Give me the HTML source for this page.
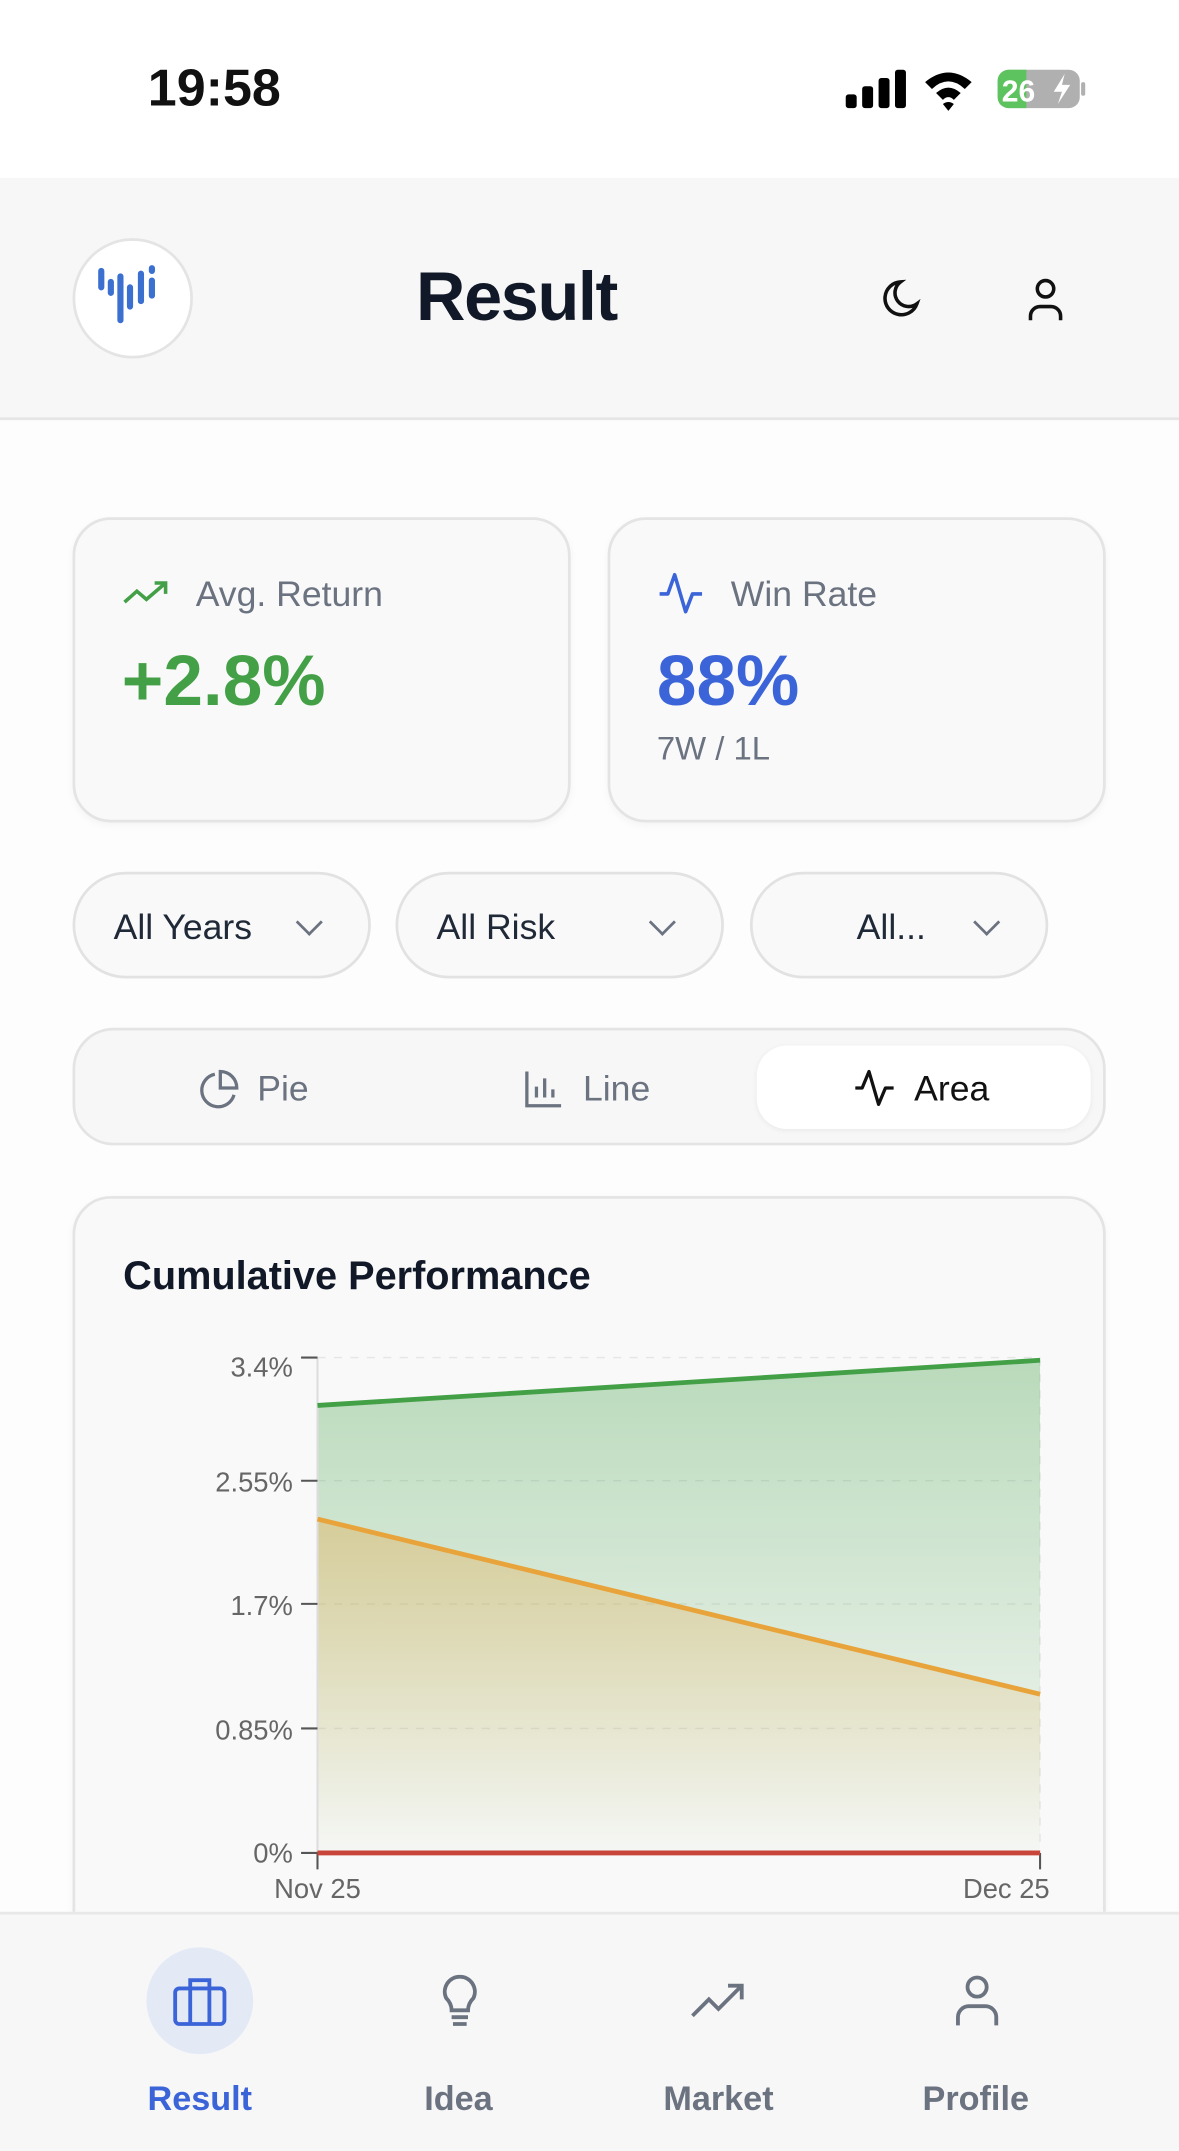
<!DOCTYPE html>
<html><head><meta charset="utf-8"><style>
html,body{margin:0;padding:0;width:1179px;height:2147px;overflow:hidden;background:#fff}
#w{position:absolute;left:0;top:0;width:862px;height:1570px;transform:scale(1.3685);transform-origin:0 0;font-family:"Liberation Sans",sans-serif;background:#fdfdfd}
.a{position:absolute}
.card{position:absolute;background:#f9f9f9;border:2px solid #e4e4e4;border-radius:28px;box-sizing:border-box;box-shadow:0 2px 6px rgba(0,0,0,0.04)}
.pill{position:absolute;top:637px;height:78px;border:2px solid #e2e2e2;border-radius:39px;box-sizing:border-box;background:#f9f9f9;font-size:26px;color:#1f2937}
.pill span{position:absolute;top:23px}
.chev{position:absolute;top:28px;width:12px;height:12px;border-right:2.5px solid #6b7280;border-bottom:2.5px solid #6b7280;transform:rotate(45deg)}
.seg{position:absolute;top:780px;font-size:26px;color:#6b7280}
.nl{position:absolute;top:1520px;font-size:25px;font-weight:bold;color:#6b7280;transform:translateX(-50%)}
</style></head><body><div id="w">
<div class="a" style="left:0;top:0;width:862px;height:130px;background:#fff"></div>
<div class="a" style="left:108px;top:44px;font-size:38px;font-weight:bold;color:#111">19:58</div>
<svg class="a" style="left:610px;top:46px" width="190" height="40">
<rect x="8" y="23" width="8" height="10" rx="2"/><rect x="20" y="17" width="8" height="16" rx="2"/><rect x="32" y="11" width="8" height="22" rx="2"/><rect x="44" y="5" width="8" height="28" rx="2"/>
<path d="M66 14 Q83 0 100 14 L95 19 Q83 8 71 19Z M74 22 Q83 14 92 22 L87 27 Q83 23 79 27Z M83 35 L79 30 Q83 27 87 30Z"/>
<rect x="119" y="5" width="60" height="28" rx="8" fill="#b0b0b0"/><path d="M127 5 h13 v28 h-13 a8 8 0 0 1 -8 -8 v-12 a8 8 0 0 1 8 -8z" fill="#5cc35f"/>
<rect x="180" y="14" width="3" height="10" rx="1.5" fill="#b0b0b0"/>
<text x="122" y="28" font-size="22" font-weight="bold" fill="#fff" font-family="Liberation Sans">26</text>
<path d="M168 8 L160 21 H166 L163 30 L172 16 H166Z" fill="#fff"/></svg>
<div class="a" style="left:0;top:130px;width:862px;height:175px;background:#f7f7f7;border-bottom:2px solid #e6e6e6"></div>
<div class="a" style="left:53px;top:174px;width:84px;height:84px;border-radius:50%;background:#fff;border:2px solid #e4e4e4"></div>
<svg class="a" style="left:66px;top:188px" width="60" height="60" stroke="#3b6fd0" stroke-width="4.5" stroke-linecap="round">
<line x1="8" y1="10" x2="8" y2="22"/><line x1="15" y1="18" x2="15" y2="26"/><line x1="22" y1="14" x2="22" y2="46"/><line x1="29" y1="22" x2="29" y2="36"/><line x1="37" y1="12" x2="37" y2="32"/><line x1="45" y1="8" x2="45" y2="10"/><line x1="45" y1="17" x2="45" y2="28"/></svg>
<div class="a" style="left:304px;top:188px;font-size:50px;font-weight:bold;color:#111827;letter-spacing:-1px">Result</div>
<svg class="a" style="left:640px;top:200px" width="40" height="40" fill="none" stroke="#111" stroke-width="2.6"><path d="M30 22 A12 12 0 1 1 18 6 A9 9 0 0 0 30 22Z"/></svg>
<svg class="a" style="left:745px;top:200px" width="40" height="40" fill="none" stroke="#111" stroke-width="2.6"><circle cx="19" cy="11" r="6"/><path d="M8 34 v-3 a7 7 0 0 1 7 -7 h8 a7 7 0 0 1 7 7 v3"/></svg>

<div class="card" style="left:53px;top:378px;width:364px;height:223px"></div>
<div class="card" style="left:444px;top:378px;width:364px;height:223px"></div>
<svg class="a" style="left:88px;top:420px" width="40" height="28" fill="none" stroke="#43a047" stroke-width="2.6"><path d="M3 20 L12 12 L19 18 L33 6 M25 6 H33 V14"/></svg>
<div class="a" style="left:143px;top:419px;font-size:26px;color:#6b7280">Avg. Return</div>
<div class="a" style="left:89px;top:468px;font-size:52px;font-weight:bold;color:#43a047">+2.8%</div>
<svg class="a" style="left:480px;top:416px" width="40" height="36" fill="none" stroke="#3b64d8" stroke-width="2.6" stroke-linejoin="round"><path d="M2 18 H8 L13 4 L21 31 L26 18 H33"/></svg>
<div class="a" style="left:534px;top:419px;font-size:26px;color:#6b7280">Win Rate</div>
<div class="a" style="left:480px;top:468px;font-size:52px;font-weight:bold;color:#3b64d8">88%</div>
<div class="a" style="left:480px;top:534px;font-size:24px;color:#6b7280">7W / 1L</div>

<div class="pill" style="left:53px;width:218px"><span style="left:28px">All Years</span><div class="chev" style="left:164px"></div></div>
<div class="pill" style="left:289px;width:240px"><span style="left:28px">All Risk</span><div class="chev" style="left:186px"></div></div>
<div class="pill" style="left:548px;width:218px"><span style="left:76px">All...</span><div class="chev" style="left:164px"></div></div>

<div class="a" style="left:53px;top:751px;width:755px;height:86px;border:2px solid #e4e4e4;border-radius:30px;box-sizing:border-box;background:#f7f7f7"></div>
<div class="a" style="left:553px;top:764px;width:244px;height:61px;border-radius:22px;background:#fff;box-shadow:0 1px 4px rgba(0,0,0,0.06)"></div>
<svg class="a" style="left:144px;top:780px" width="32" height="32" fill="none" stroke="#6b7280" stroke-width="2.4"><path d="M27 20 A12 12 0 1 1 13 5"/><path d="M17 3 A12 12 0 0 1 29 15 H17Z"/></svg>
<div class="seg" style="left:188px">Pie</div>
<svg class="a" style="left:382px;top:780px" width="32" height="32" fill="none" stroke="#6b7280" stroke-width="2.4"><path d="M3 3 V28 H28 M10 22 V14 M16 22 V8 M22 22 V16"/></svg>
<div class="seg" style="left:426px">Line</div>
<svg class="a" style="left:623px;top:778px" width="34" height="34" fill="none" stroke="#111" stroke-width="2.4" stroke-linejoin="round"><path d="M2 17 H7 L12 5 L19 29 L24 17 H30"/></svg>
<div class="seg" style="left:668px;color:#111">Area</div>

<div class="card" style="left:53px;top:874px;width:755px;height:600px"></div>
<div class="a" style="left:90px;top:917px;font-size:29px;font-weight:bold;color:#111827">Cumulative Performance</div>
<svg class="a" style="left:0;top:2px" width="862" height="1400" font-family="Liberation Sans" font-size="20" fill="#666">
<defs>
<linearGradient id="g" x1="0" y1="990" x2="0" y2="1352" gradientUnits="userSpaceOnUse"><stop offset="0" stop-color="#43a047" stop-opacity="0.35"/><stop offset="1" stop-color="#43a047" stop-opacity="0.02"/></linearGradient>
<linearGradient id="o" x1="0" y1="1108" x2="0" y2="1352" gradientUnits="userSpaceOnUse"><stop offset="0" stop-color="#e8a33a" stop-opacity="0.35"/><stop offset="1" stop-color="#e8a33a" stop-opacity="0.0"/></linearGradient>
</defs>
<g stroke="#e6e6e6" stroke-dasharray="6 6"><line x1="232" y1="990" x2="760" y2="990"/><line x1="232" y1="1080" x2="760" y2="1080"/><line x1="232" y1="1170" x2="760" y2="1170"/><line x1="232" y1="1261" x2="760" y2="1261"/><line x1="760" y1="990" x2="760" y2="1352"/></g>
<path d="M232 1025 L760 992 L760 1352 L232 1352Z" fill="url(#g)"/>
<path d="M232 1108 L760 1236 L760 1352 L232 1352Z" fill="url(#o)"/>
<line x1="232" y1="990" x2="232" y2="1352" stroke="#ddd" stroke-width="1.5"/>
<g stroke="#555" stroke-width="1.5"><line x1="220" y1="990" x2="232" y2="990"/><line x1="220" y1="1080" x2="232" y2="1080"/><line x1="220" y1="1170" x2="232" y2="1170"/><line x1="220" y1="1261" x2="232" y2="1261"/><line x1="220" y1="1352" x2="232" y2="1352"/><line x1="232" y1="1352" x2="232" y2="1364"/><line x1="760" y1="1352" x2="760" y2="1364"/></g>
<path d="M232 1025 L760 992" stroke="#43a047" stroke-width="3.5" fill="none"/>
<path d="M232 1108 L760 1236" stroke="#e8a33a" stroke-width="3.5" fill="none"/>
<path d="M232 1352 L760 1352" stroke="#c8453a" stroke-width="3.5" fill="none"/>
<g text-anchor="end"><text x="214" y="1004">3.4%</text><text x="214" y="1088">2.55%</text><text x="214" y="1178">1.7%</text><text x="214" y="1269">0.85%</text><text x="214" y="1359">0%</text></g>
<text x="232" y="1385" text-anchor="middle">Nov 25</text><text x="767" y="1385" text-anchor="end">Dec 25</text>
</svg>

<div class="a" style="left:0;top:1397px;width:862px;height:173px;background:#f7f7f7;border-top:2px solid #e8e8e8"></div>
<div class="a" style="left:107px;top:1423px;width:78px;height:78px;border-radius:50%;background:#e3eaf6"></div>
<svg class="a" style="left:126px;top:1443px" width="40" height="40" fill="none" stroke="#3b64d8" stroke-width="2.8"><rect x="2" y="10" width="36" height="26" rx="3"/><path d="M13 10 V4 H27 V10 M13 10 V36 M27 10 V36"/></svg>
<svg class="a" style="left:318px;top:1443px" width="36" height="40" fill="none" stroke="#6b7280" stroke-width="2.8"><path d="M12 26 Q12 21 8 17 A11 11 0 1 1 28 17 Q24 21 24 26Z M12 31 H24 M13 36 H23"/></svg>
<svg class="a" style="left:504px;top:1447px" width="44" height="32" fill="none" stroke="#6b7280" stroke-width="2.8"><path d="M2 26 L14 14 L21 21 L38 4 M28 4 H38 V14"/></svg>
<svg class="a" style="left:694px;top:1442px" width="40" height="42" fill="none" stroke="#6b7280" stroke-width="2.8"><circle cx="20" cy="10" r="7"/><path d="M6 38 v-6 a8 8 0 0 1 8 -8 h12 a8 8 0 0 1 8 8 v6"/></svg>
<div class="nl" style="left:146px;color:#3b64d8">Result</div>
<div class="nl" style="left:335px">Idea</div>
<div class="nl" style="left:525px">Market</div>
<div class="nl" style="left:713px">Profile</div>
</div></body></html>
